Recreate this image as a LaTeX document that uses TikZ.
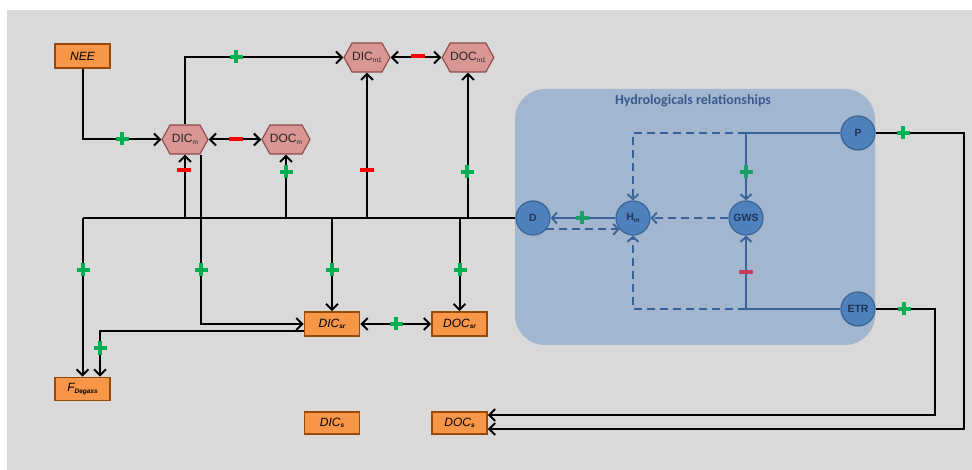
\documentclass[tikz,border=0pt]{standalone}
\usepackage{fontspec}
\setmainfont{Liberation Sans}
\newfontfamily\titlefont{Carlito}
\usetikzlibrary{arrows.meta,shapes.symbols,calc}
\definecolor{bg}{HTML}{D9D9D9}
\definecolor{orfill}{HTML}{F79646}
\definecolor{ordraw}{HTML}{984807}
\definecolor{hexfill}{HTML}{D99694}
\definecolor{hexdraw}{HTML}{8C4A48}
\definecolor{hydfill}{HTML}{A2B6CF}
\definecolor{circfill}{HTML}{4F81BD}
\definecolor{circdraw}{HTML}{3A6496}
\definecolor{blueline}{HTML}{3A6499}
\definecolor{navytext}{HTML}{1F3556}
\definecolor{titleblue}{HTML}{3A5A8C}
\definecolor{plusgreen}{HTML}{00B050}
\definecolor{minusred}{HTML}{FF0000}
\definecolor{plusgreenb}{HTML}{1BA068}
\definecolor{minusredb}{HTML}{C83C55}
\newcommand\sbx[1]{\raisebox{-1.5pt}{\fontsize{6.5}{6.5}\selectfont #1}}
\begin{document}
\begin{tikzpicture}[x=1pt,y=-1pt,
 orbox/.style={draw=ordraw, fill=orfill, line width=1.6pt, minimum width=55pt, minimum height=24pt, inner sep=0pt, font=\fontsize{12}{12}\selectfont\itshape},
 hexa/.style={signal, signal to=east and west, signal pointer angle=122, draw=hexdraw, fill=hexfill, line width=1.1pt, minimum width=46pt, minimum height=29pt, inner sep=0pt, font=\fontsize{12}{12}\selectfont, text=black!85},
 circ/.style={circle, draw=circdraw, fill=circfill, line width=1.2pt, minimum size=34pt, inner sep=0pt, font=\fontsize{10.5}{11}\selectfont\bfseries, text=navytext},
 flow/.style={line width=2pt, black},
 arr/.style={-{Straight Barb[length=6pt,width=12pt]}},
 darr/.style={{Straight Barb[length=6pt,width=12pt]}-{Straight Barb[length=6pt,width=12pt]}},
 bflow/.style={line width=1.9pt, blueline},
 barr/.style={-{Straight Barb[length=5pt,width=11pt]}},
 dsh/.style={dash pattern=on 8pt off 5pt},
 gplus/.pic={\fill[plusgreen] (-6.5,-2.3) rectangle (6.5,2.3); \fill[plusgreen] (-2.3,-6.5) rectangle (2.3,6.5);},
 bplus/.pic={\fill[plusgreenb] (-6.5,-2.3) rectangle (6.5,2.3); \fill[plusgreenb] (-2.3,-6.5) rectangle (2.3,6.5);},
 rminus/.pic={\fill[minusred] (-7,-2.4) rectangle (7,2.4);},
 bminus/.pic={\fill[minusredb] (-7,-2.4) rectangle (7,2.4);},
]
\useasboundingbox (0,0) rectangle (972,470);
\fill[bg] (7,10) rectangle (972,470);

% hydrological box
\node[fill=hydfill, rounded corners=30pt, minimum width=360pt, minimum height=256pt, inner sep=0pt] (hydro) at (695,217) {};
\node[font=\titlefont\bfseries\fontsize{14}{14}\selectfont, text=titleblue] (title) at (693,101) {Hydrologicals relationships};

% carbon nodes
\node[orbox] (NEE) at (82.5,56) {NEE};
\node[hexa] (DICm) at (185,139.5) {DIC\sbx{m}};
\node[hexa] (DOCm) at (286,139.5) {DOC\sbx{m}};
\node[hexa] (DICmA) at (367,57.5) {DIC\sbx{m1}};
\node[hexa] (DOCmA) at (468,57.5) {DOC\sbx{m1}};
\node[orbox, minimum height=23pt] (Fdeg) at (82.5,389) {F\sbx{\textbf{Degass}}};
\node[orbox] (DICsr) at (332,324) {DIC\sbx{\textbf{sr}}};
\node[orbox] (DOCsr) at (459.5,324) {DOC\sbx{\textbf{sr}}};
\node[orbox, minimum height=22pt] (DICs) at (332,423) {DIC\sbx{\textbf{s}}};
\node[orbox, minimum height=22pt] (DOCs) at (459.5,423) {DOC\sbx{\textbf{s}}};

% hydro nodes
\node[circ] (D) at (533,218) {D};
\node[circ] (Hm) at (633,218) {H\sbx{m}};
\node[circ] (GWS) at (746,218) {GWS};
\node[circ] (P) at (858,133) {P};
\node[circ] (ETR) at (858,309) {ETR};

% helper coordinates
\coordinate (bus0) at (Fdeg.north |- D.west);
\coordinate (pr) at (964,429);
\coordinate (er) at (935,415);
\coordinate (pj) at (GWS.north |- P.west);
\coordinate (ej) at (GWS.south |- ETR.west);

% black connectors
\draw[flow] (bus0) -- (D.west);
\draw[flow,arr] (NEE.south) |- (DICm.west);
\draw[flow,arr] (DICm.north) |- (DICmA.west);
\draw[flow,darr] (DICm.east) -- (DOCm.west);
\draw[flow,darr] (DICmA.east) -- (DOCmA.west);
\draw[flow,arr] (DICm.south |- bus0) -- (DICm.south);
\draw[flow,arr] (DOCm.south |- bus0) -- (DOCm.south);
\draw[flow,arr] (DICmA.south |- bus0) -- (DICmA.south);
\draw[flow,arr] (DOCmA.south |- bus0) -- (DOCmA.south);
\draw[flow,arr] (bus0) -- (Fdeg.north);
\draw[flow,arr] (DICsr.north |- bus0) -- (DICsr.north);
\draw[flow,arr] (DOCsr.north |- bus0) -- (DOCsr.north);
\draw[flow,arr] ($(DICm.south)+(16,0)$) |- (DICsr.west);
\draw[flow,arr] ($(DICsr.west)+(0,7)$) -| ($(Fdeg.north)+(17.5,0)$);
\draw[flow,darr] (DICsr.east) -- (DOCsr.west);
\draw[flow,arr] (P.east) -| (pr) -- ($(DOCs.east)+(0,6)$);
\draw[flow,arr] (ETR.east) -| (er) -- ($(DOCs.east)+(0,-8)$);

% blue connectors
\draw[bflow] (P.west) -- (pj);
\draw[bflow,barr] (pj) -- (GWS.north);
\draw[bflow,dsh,barr] (pj) -| (Hm.north);
\draw[bflow] (ETR.west) -- (ej);
\draw[bflow,barr] (ej) -- (GWS.south);
\draw[bflow,dsh,barr] (ej) -| (Hm.south);
\draw[bflow,barr] (Hm.west) -- (D.east);
\draw[bflow,dsh,barr] (D.-40) -- (Hm.-140);
\draw[bflow,dsh,barr] (GWS.west) -- (Hm.east);

% markers
\foreach \p in {(122,139),(236,57),(286,172),(467,172),(83,270),(201,270),(332,270),(460,270),(396,324),(100,348),(903,133),(904,309)}
  \pic at \p {gplus};
\foreach \p in {(236,139),(418,56),(184,170),(367,170)}
  \pic at \p {rminus};
\pic at (582,218) {bplus};
\pic at (746,172) {bplus};
\pic at (746,272) {bminus};
\end{tikzpicture}
\end{document}
